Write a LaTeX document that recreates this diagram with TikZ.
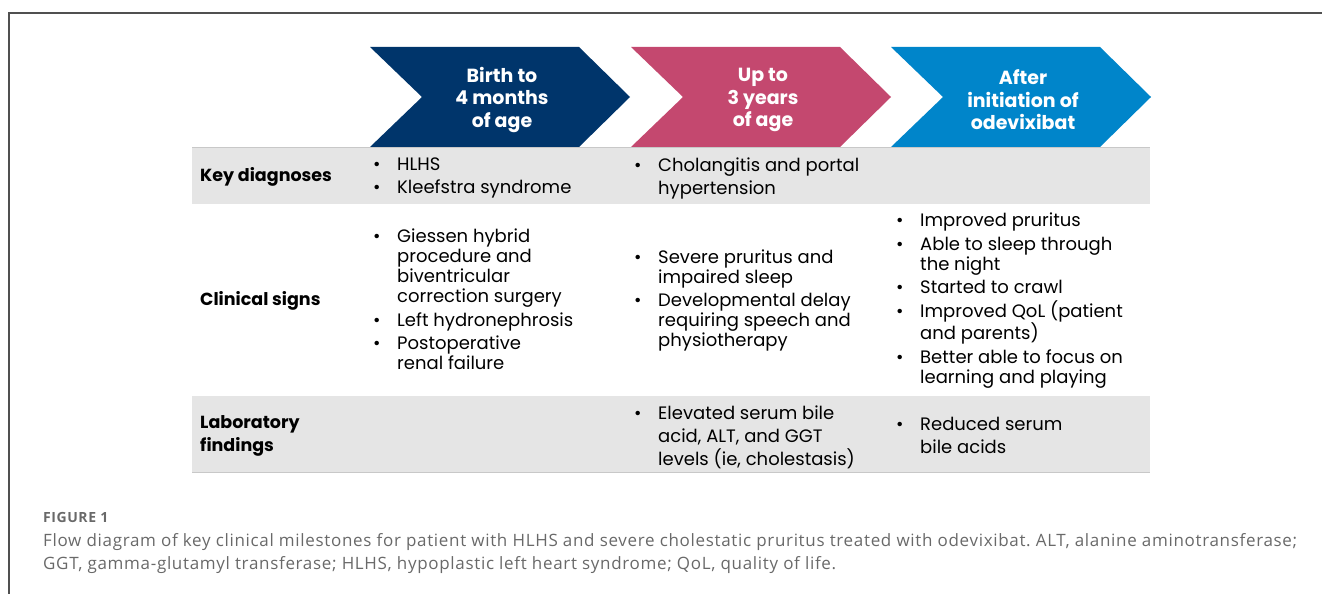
\documentclass[tikz,border=0pt]{standalone}
\usepackage{fontspec}
\setmainfont{Poppins}
\newfontfamily\capfont[LetterSpace=4]{Open Sans}
\usetikzlibrary{positioning}
\definecolor{navy}{RGB}{0,53,107}
\definecolor{rose}{RGB}{196,72,111}
\definecolor{azure}{RGB}{0,133,202}
\definecolor{rowgray}{RGB}{229,229,229}
\definecolor{ruleGray}{RGB}{200,200,200}
\definecolor{capgray}{RGB}{105,105,105}
\definecolor{frameGray}{RGB}{80,80,80}
\tikzstyle{stage} = [text=white, inner sep=0, align=center, font=\bfseries\fontsize{19}{22.5}\selectfont]
\tikzstyle{rowlabel} = [anchor=west, inner sep=0, align=left, font=\bfseries\fontsize{17.5}{23}\selectfont]
\tikzstyle{cell} = [anchor=west, inner sep=0, align=left, font=\fontsize{18}{23}\selectfont]
\tikzstyle{tightcell} = [anchor=west, inner sep=0, align=left, font=\fontsize{18}{20}\selectfont]
\newcommand{\itm}{\makebox[24pt][l]{\textbullet}}
\newcommand{\ind}{\hspace*{24pt}}

\begin{document}
\begin{tikzpicture}[x=1pt,y=-1pt]
\useasboundingbox (0,0) rectangle (1322,594);
% page frame
\draw[frameGray, line width=1.2] (9,594) -- (9,13) -- (1322,13);

% chevrons
\foreach \x/\col in {370/navy, 631/rose, 891/azure}
  \fill[\col] (\x,47) -- ++(209,0) -- ++(51,50) -- ++(-51,50) -- ++(-209,0) -- ++(52,-50) -- cycle;
\node (stage1) [stage] at (502,100) {Birth to\\4 months\\of age};
\node (stage2) [stage] at (763,100) {Up to\\3 years\\of age};
\node (stage3) [stage] at (1023,100) {After\\initiation of\\odevixibat};

% shaded rows
\fill[rowgray] (192,147) rectangle (1150,204);
\fill[rowgray] (192,396) rectangle (1150,473);
\draw[ruleGray, line width=1] (192,147.5) -- (1150,147.5);
\draw[ruleGray, line width=1.5] (192,472.5) -- (1150,472.5);

% row labels
\node (keyDx) [rowlabel] at (200,177) {Key diagnoses};
\node (clinSigns) [rowlabel] at (200,301) {Clinical signs};
\node (labFind) [rowlabel] at (200,435.5) {Laboratory\\findings};

% birth to 4 months
\node (dxA) [cell] at (373,178) {\itm HLHS\\
\itm Kleefstra syndrome};
\node (signA) [tightcell] at (373,299) {\itm Giessen hybrid\\
\ind procedure and\\
\ind biventricular\\
\ind correction surgery\\[4pt]
\itm Left hydronephrosis\\[3pt]
\itm Postoperative\\
\ind renal failure};

% up to 3 years
\node (dxB) [cell] at (634,178) {\itm Cholangitis and portal\\
\ind hypertension};
\node (signB) [tightcell] at (634,300.5) {\itm Severe pruritus and\\
\ind impaired sleep\\[3pt]
\itm Developmental delay\\
\ind requiring speech and\\
\ind physiotherapy};
\node (labB) [cell] at (634,437) {\itm Elevated serum bile\\
\ind acid, ALT, and GGT\\
\ind levels (ie, cholestasis)};

% after odevixibat
\node (signC) [tightcell] at (896,300.5) {\itm Improved pruritus\\[4pt]
\itm Able to sleep through\\
\ind the night\\[3pt]
\itm Started to crawl\\[4pt]
\itm Improved QoL (patient\\
\ind and parents)\\[4pt]
\itm Better able to focus on\\
\ind learning and playing};
\node (labC) [cell] at (896,435.5) {\itm Reduced serum\\
\ind bile acids};

% caption
\node (figNo) [anchor=west, inner sep=0, text=capgray, font=\capfont\bfseries\fontsize{14}{16}\selectfont] at (43,517) {FIGURE 1};
\node (figCap) [anchor=north west, inner sep=0, text=capgray, align=left, font=\capfont\frenchspacing\fontsize{17}{23}\selectfont] at (43,533)
  {\makebox[1254pt][s]{Flow diagram of key clinical milestones for patient with HLHS and severe cholestatic pruritus treated with odevixibat. ALT, alanine aminotransferase;}\\
   GGT, gamma-glutamyl transferase; HLHS, hypoplastic left heart syndrome; QoL, quality of life.};
\end{tikzpicture}
\end{document}
